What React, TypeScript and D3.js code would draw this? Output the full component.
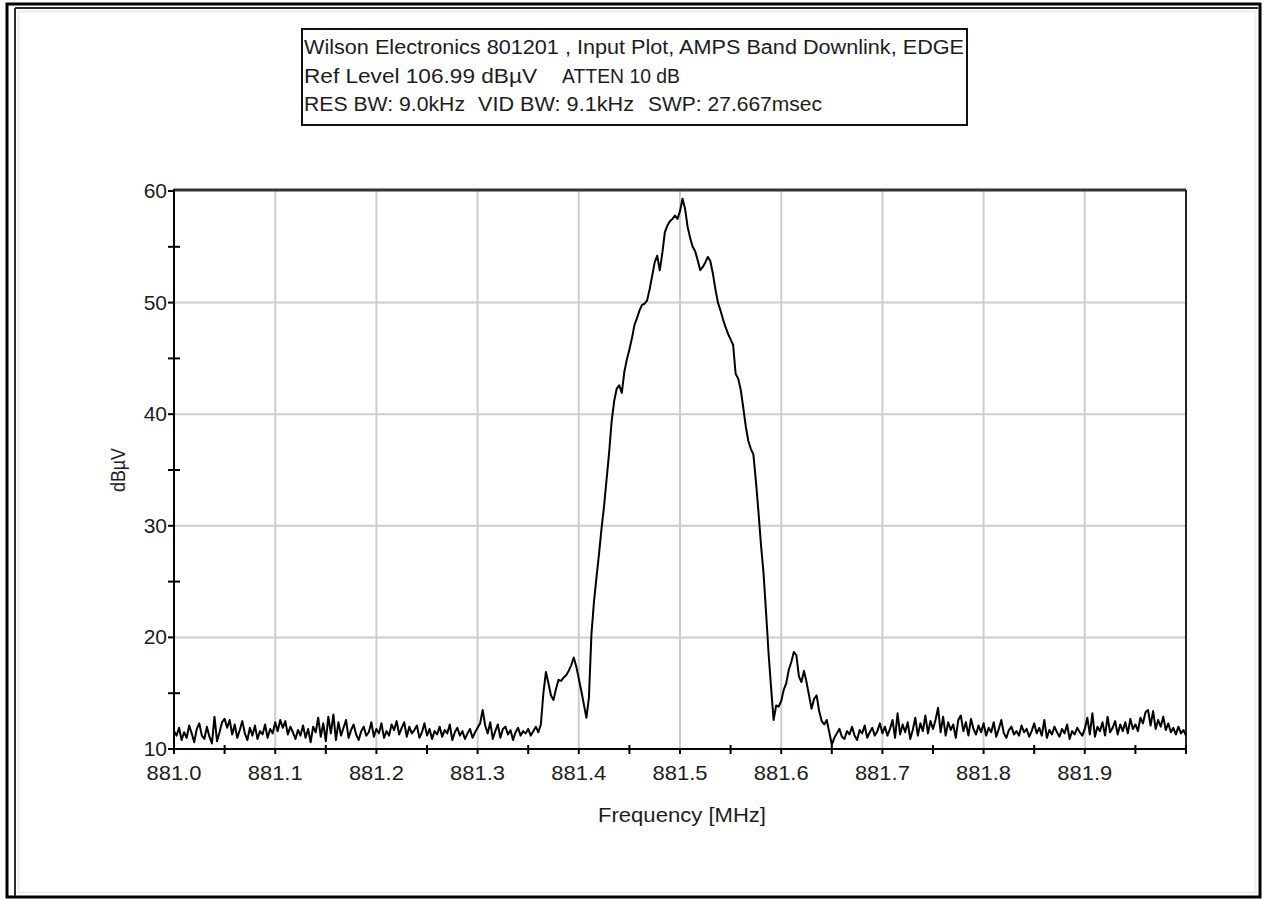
import React from "react";
import * as d3 from "d3";

// ---- Data ----
const FREQ_STEP = 0.0025; // MHz between trace samples

// Noise floor left of the carrier, starting at 881.000 MHz
const noiseLeftStart = 881.0;
const noiseLeft = [
  11.6, 11.2, 11.9, 10.8, 11.5, 11.0, 12.1, 11.4, 10.6, 11.8, 12.3, 11.2, 10.9, 12.0, 11.1, 10.5, 12.9, 10.7, 11.5, 12.4,
  12.7, 11.9, 12.6, 11.3, 12.2, 11.0, 11.7, 12.5, 11.4, 10.8, 11.9, 11.2, 12.1, 10.9, 11.6, 11.3, 12.2, 11.0, 11.8, 11.4,
  12.4, 11.6, 12.6, 11.9, 12.5, 11.3, 12.0, 11.5, 10.9, 11.7, 11.2, 12.1, 11.0, 11.8, 10.6, 12.0, 11.5, 12.8, 11.1, 12.3,
  10.7, 12.9, 11.4, 13.1, 10.8, 12.4, 11.2, 11.9, 12.6, 11.0, 11.7, 12.2, 11.3, 10.8, 11.6, 12.0, 11.2, 11.5, 12.4, 11.1,
  11.8, 11.4, 12.3, 11.0, 11.6, 11.2, 12.2, 11.7, 12.5, 11.3, 11.9, 12.4, 11.1, 12.0, 11.4, 11.7, 12.1, 11.0, 11.5, 12.3,
  11.2, 11.8, 10.9, 11.6, 11.3, 12.0, 11.1, 11.7, 11.4, 12.2, 10.8, 11.5, 11.9, 11.2, 11.6, 10.9, 11.4, 11.8, 11.0, 11.5,
  11.9, 12.3, 13.5, 12.1, 11.4, 12.4, 10.9, 11.6, 12.2, 11.0, 11.8, 12.0, 11.3, 11.7, 10.8, 11.5, 11.9, 11.2, 11.6, 11.4,
  11.8, 11.2, 11.6, 12.0, 11.5, 12.2,
];

// EDGE carrier with shoulders, starting at 881.365 MHz
const carrierStart = 881.365;
const carrier = [
  15.0, 16.9, 15.9, 14.8, 14.4, 15.4, 16.2, 16.1, 16.4, 16.6, 17.0, 17.5, 18.2, 17.4, 16.3, 15.2, 14.0, 12.8, 14.6, 20.3,
  23.2, 25.4, 27.5, 29.8, 31.8, 34.2, 36.6, 39.4, 41.2, 42.3, 42.6, 41.9, 43.8, 44.9, 45.8, 46.8, 48.0, 48.6, 49.3, 49.8,
  49.9, 50.2, 51.2, 52.4, 53.6, 54.2, 52.9, 54.4, 56.3, 56.9, 57.3, 57.5, 57.8, 57.5, 58.2, 59.3, 58.4, 56.8, 55.8, 55.0,
  54.6, 53.8, 52.9, 53.2, 53.6, 54.1, 53.7, 52.6, 51.2, 50.0, 49.3, 48.5, 47.8, 47.2, 46.7, 46.2, 43.6, 43.2, 42.2, 40.6,
  38.9, 37.6, 36.9, 36.4, 34.0, 31.3, 28.3, 25.8, 22.3, 18.6, 15.5, 12.6, 13.9, 13.8, 14.3, 15.3, 15.9, 17.1, 17.8, 18.7,
  18.4, 16.5, 16.0, 17.0, 16.0, 14.8, 13.6, 14.5, 14.8, 13.4, 12.5, 12.2, 12.6, 11.5, 10.4, 11.0, 11.4,
];

// Noise floor right of the carrier, starting at 881.6575 MHz
const noiseRightStart = 881.6575;
const noiseRight = [
  11.8, 11.1, 10.9, 11.6, 11.3, 12.0, 11.2, 10.8, 11.7, 11.4, 12.1, 11.0, 11.5, 11.9, 11.2, 11.6, 12.3,
  11.4, 12.0, 11.2, 11.8, 12.6, 11.0, 13.2, 11.3, 12.2, 11.5, 12.4, 10.9, 11.7, 12.8, 11.2, 12.3, 11.6, 13.0, 11.4, 12.5,
  11.8, 12.6, 13.7, 11.5, 12.9, 11.2, 12.4, 11.7, 12.2, 11.0, 12.6, 13.0, 11.6, 12.4, 11.2, 12.7, 11.8, 11.3, 12.1, 11.5,
  12.3, 11.2, 11.9, 11.5, 12.4, 11.1, 11.8, 12.6, 11.4, 11.0, 11.7, 12.0, 11.3, 11.6, 11.2, 12.1, 11.5, 11.8, 11.1, 11.6,
  12.3, 11.4, 11.9, 11.2, 12.6, 11.0, 11.7, 11.3, 12.0, 11.5, 11.1, 11.8, 11.4, 12.2, 10.9, 11.6, 11.3, 11.9, 11.5, 11.2,
  11.8, 12.8, 11.3, 13.2, 11.1, 12.0, 11.6, 12.4, 11.2, 12.9, 11.5, 11.9, 12.5, 11.3, 12.2, 11.6, 12.4, 11.4, 12.7, 11.8,
  12.2, 11.6, 12.8, 12.3, 13.3, 13.5, 12.1, 13.4, 11.8, 12.6, 12.0, 12.9, 11.7, 12.3, 11.5, 11.9, 11.3, 12.0, 11.4, 11.7, 11.2,
];

const xMajorTicks = [881.0, 881.1, 881.2, 881.3, 881.4, 881.5, 881.6, 881.7, 881.8, 881.9];
const xTickLabels = ["881.0", "881.1", "881.2", "881.3", "881.4", "881.5", "881.6", "881.7", "881.8", "881.9"];
const xMinorTicks = [881.05, 881.15, 881.25, 881.35, 881.45, 881.55, 881.65, 881.75, 881.85, 881.95, 882.0];
const yMajorTicks = [10, 20, 30, 40, 50, 60];
const yTickLabels = ["10", "20", "30", "40", "50", "60"];
const yMinorTicks = [15, 25, 35, 45, 55];

const titleLine1 = "Wilson Electronics 801201 , Input Plot, AMPS Band Downlink, EDGE";
const titleLine2a = "Ref Level 106.99 dBµV";
const titleLine2b = "ATTEN 10 dB";
const titleLine3a = "RES BW: 9.0kHz";
const titleLine3b = "VID BW: 9.1kHz";
const titleLine3c = "SWP: 27.667msec";
const xAxisTitle = "Frequency [MHz]";
const yAxisTitle = "dBµV";

type Pt = { f: number; v: number };
const segment = (start: number, vals: number[]): Pt[] =>
  vals.map((v, i) => ({ f: start + i * FREQ_STEP, v }));

export default function App() {
  const W = 1267;
  const H = 899;
  const left = 174;
  const right = 1186;
  const top = 191;
  const bottom = 749;

  const x = d3.scaleLinear().domain([881.0, 882.0]).range([left, right]);
  const y = d3.scaleLinear().domain([10, 60]).range([bottom, top]);

  const trace: Pt[] = [
    ...segment(noiseLeftStart, noiseLeft),
    ...segment(carrierStart, carrier),
    ...segment(noiseRightStart, noiseRight),
  ];
  const line = d3
    .line<Pt>()
    .x((d) => x(d.f))
    .y((d) => y(d.v));

  const font = "'Liberation Sans', Arial, sans-serif";
  const textColor = "#1c1c1c";
  const gridColor = "#cdcdcd";

  return (
    <svg
      width={W}
      height={H}
      viewBox={`0 0 ${W} ${H}`}
      style={{ position: "absolute", left: 0, top: 0, display: "block", background: "#fff" }}
    >
      {/* window frame */}
      <rect x={0} y={0} width={W} height={H} fill="#fff" />
      <rect x={7} y={4} width={1253} height={893} fill="none" stroke="#000" strokeWidth={3} />
      <line x1={15} y1={8} x2={15} y2={896} stroke="#2a2a2a" strokeWidth={2} />
      <line x1={15} y1={8} x2={1258} y2={8} stroke="#2a2a2a" strokeWidth={2} />
      <rect x={18.5} y={11.5} width={1237} height={881} fill="none" stroke="#ececec" strokeWidth={2} />

      {/* title box */}
      <rect x={302} y={29} width={665} height={96} fill="#fff" stroke="#111" strokeWidth={2} />
      <g fontFamily={font} fontSize={20} fill={textColor}>
        <text x={304} y={54} textLength={660} lengthAdjust="spacingAndGlyphs">
          {titleLine1}
        </text>
        <text x={304} y={83} textLength={233} lengthAdjust="spacingAndGlyphs">
          {titleLine2a}
        </text>
        <text x={562} y={83} textLength={118} lengthAdjust="spacingAndGlyphs">
          {titleLine2b}
        </text>
        <text x={304} y={111} textLength={161} lengthAdjust="spacingAndGlyphs">
          {titleLine3a}
        </text>
        <text x={478} y={111} textLength={156} lengthAdjust="spacingAndGlyphs">
          {titleLine3b}
        </text>
        <text x={648} y={111} textLength={174} lengthAdjust="spacingAndGlyphs">
          {titleLine3c}
        </text>
      </g>

      {/* grid */}
      <g stroke={gridColor} strokeWidth={2}>
        {xMajorTicks.slice(1).map((t) => (
          <line key={`gx${t}`} x1={x(t)} x2={x(t)} y1={top} y2={bottom} />
        ))}
        {yMajorTicks.slice(1, -1).map((t) => (
          <line key={`gy${t}`} x1={left} x2={right} y1={y(t)} y2={y(t)} />
        ))}
      </g>

      {/* plot frame */}
      <line x1={left} x2={right} y1={top - 1} y2={top - 1} stroke="#333" strokeWidth={3} />
      <line x1={right} x2={right} y1={top - 1} y2={bottom} stroke="#222" strokeWidth={2} />
      <line x1={left} x2={left} y1={top - 2} y2={bottom + 1} stroke="#000" strokeWidth={2} />
      <line x1={left - 1} x2={right + 1} y1={bottom} y2={bottom} stroke="#000" strokeWidth={2} />

      {/* ticks */}
      <g stroke="#000" strokeWidth={2}>
        {yMajorTicks.map((t) => (
          <line key={`ty${t}`} x1={left - 6} x2={left} y1={y(t)} y2={y(t)} />
        ))}
        {yMinorTicks.map((t) => (
          <line key={`tym${t}`} x1={left - 6} x2={left + 6} y1={y(t)} y2={y(t)} />
        ))}
        {xMajorTicks.map((t) => (
          <line key={`tx${t}`} x1={x(t)} x2={x(t)} y1={bottom} y2={bottom + 5} />
        ))}
        {xMinorTicks.map((t) => (
          <line key={`txm${t}`} x1={x(t)} x2={x(t)} y1={bottom - 4} y2={bottom + 5} />
        ))}
      </g>

      {/* trace */}
      <path d={line(trace) || ""} fill="none" stroke="#000" strokeWidth={2} strokeLinejoin="round" />

      {/* tick labels */}
      <g fontFamily={font} fontSize={21} fill={textColor}>
        {yMajorTicks.map((t, i) => (
          <text key={`ly${t}`} x={left - 7} y={y(t) + 7} textAnchor="end">
            {yTickLabels[i]}
          </text>
        ))}
        {xMajorTicks.map((t, i) => (
          <text key={`lx${t}`} x={x(t)} y={780} textAnchor="middle" textLength={55} lengthAdjust="spacingAndGlyphs">
            {xTickLabels[i]}
          </text>
        ))}
      </g>

      {/* axis titles */}
      <g fontFamily={font} fontSize={20} fill={textColor}>
        <text x={682} y={822} textAnchor="middle" textLength={168} lengthAdjust="spacingAndGlyphs">
          {xAxisTitle}
        </text>
        <text
          transform="translate(125,470) rotate(-90)"
          textAnchor="middle"
          textLength={44}
          lengthAdjust="spacingAndGlyphs"
        >
          {yAxisTitle}
        </text>
      </g>
    </svg>
  );
}
